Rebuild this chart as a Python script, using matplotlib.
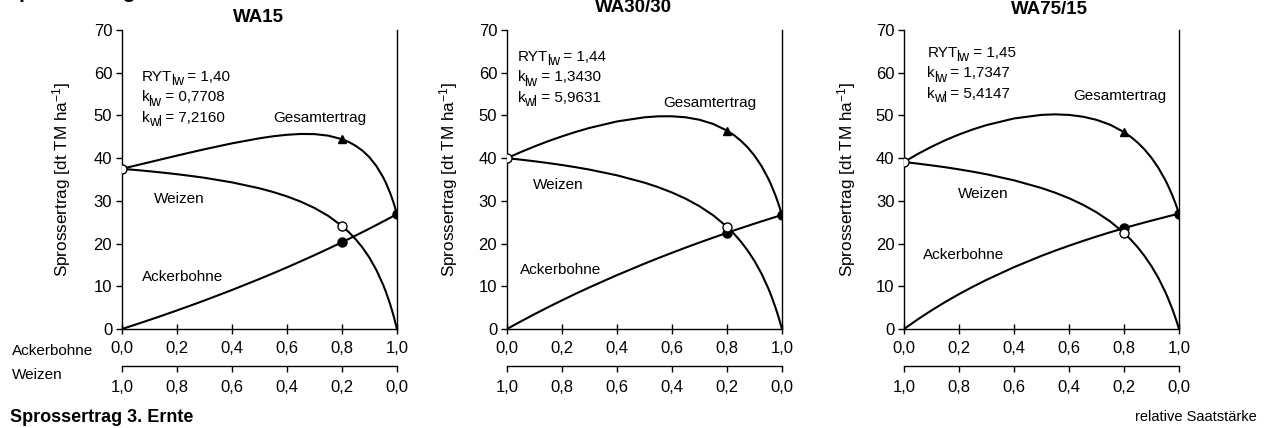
import matplotlib
matplotlib.use("Agg")
import matplotlib.pyplot as plt
from matplotlib.ticker import FuncFormatter
import numpy as np

plt.rcParams["font.family"] = ["Liberation Sans", "DejaVu Sans"]
plt.rcParams["mathtext.fontset"] = "custom"
plt.rcParams["mathtext.rm"] = "Liberation Sans"
plt.rcParams["mathtext.it"] = "Liberation Sans"

# relative seeding share of faba bean (Ackerbohne)
x_share = [0.0, 0.05, 0.1, 0.15, 0.2, 0.25, 0.3, 0.4, 0.5, 0.55, 0.6, 0.65, 0.7,
           0.75, 0.8, 0.825, 0.85, 0.875, 0.9, 0.925, 0.95, 0.96, 0.975, 0.985,
           0.99, 1.0]

panels = ["WA15", "WA30/30", "WA75/15"]

# shoot yield of wheat (Weizen), dt TM/ha
weizen_wa15 = [37.5, 37.23, 36.93, 36.60, 36.24, 35.84, 35.40, 34.33, 32.94, 32.07,
               31.05, 29.82, 28.34, 26.49, 24.13, 22.68, 21.00, 19.04, 16.69, 13.84,
               10.32, 8.67, 5.86, 3.71, 2.55, 0.0]
weizen_wa30 = [40.0, 39.65, 39.27, 38.85, 38.39, 37.88, 37.32, 35.98, 34.26, 33.20,
               31.96, 30.50, 28.75, 26.61, 23.94, 22.34, 20.51, 18.40, 15.94, 13.04,
               9.56, 7.96, 5.30, 3.33, 2.27, 0.0]
weizen_wa75 = [39.1, 38.72, 38.31, 37.87, 37.37, 36.83, 36.23, 34.81, 33.00, 31.90,
               30.62, 29.11, 27.32, 25.16, 22.49, 20.90, 19.11, 17.05, 14.69, 11.93,
               8.67, 7.20, 4.77, 2.98, 2.03, 0.0]

# shoot yield of faba bean (Ackerbohne), dt TM/ha
ackerbohne_wa15 = [0.0, 1.05, 2.12, 3.22, 4.35, 5.50, 6.68, 9.13, 11.71, 13.05,
                   14.42, 15.84, 17.29, 18.78, 20.31, 21.09, 21.89, 22.69, 23.51,
                   24.34, 25.18, 25.52, 26.03, 26.38, 26.55, 26.9]
ackerbohne_wa30 = [0.0, 1.76, 3.47, 5.12, 6.71, 8.26, 9.75, 12.61, 15.30, 16.59,
                   17.84, 19.06, 20.24, 21.39, 22.51, 23.06, 23.60, 24.13, 24.66,
                   25.18, 25.69, 25.90, 26.20, 26.40, 26.50, 26.7]
ackerbohne_wa75 = [0.0, 2.26, 4.36, 6.33, 8.17, 9.89, 11.51, 14.48, 17.13, 18.35,
                   19.50, 20.60, 21.65, 22.65, 23.60, 24.06, 24.51, 24.95, 25.37,
                   25.79, 26.20, 26.37, 26.61, 26.77, 26.84, 27.0]

ryt_labels = ["1,40", "1,44", "1,45"]
k_lw_labels = ["0,7708", "1,3430", "1,7347"]
k_wl_labels = ["7,2160", "5,9631", "5,4147"]

weizen = [weizen_wa15, weizen_wa30, weizen_wa75]
ackerbohne = [ackerbohne_wa15, ackerbohne_wa30, ackerbohne_wa75]

# layout (figure fractions) and label placement per panel (data coords)
ax_left = [0.0961, 0.3995, 0.7124]
ax_w = 0.2167
ax_b = 0.2313
ax_h = 0.6986
title_pos = [(0.2033, 1 - 18 / 428), (0.4990, 1 - 7 / 428), (0.8270, 1 - 10 / 428)]
stat_pos = [(0.073, 59.4), (0.039, 64.1), (0.085, 65.0)]
gesamt_pos = [(0.718, 49.4), (0.738, 52.9), (0.785, 54.5)]
weizen_pos = [(0.207, 30.4), (0.185, 33.6), (0.287, 31.7)]
acker_pos = [(0.222, 12.2), (0.196, 13.8), (0.218, 17.4)]
ylabel_x = [62 / 1269, 449 / 1269, 847 / 1269]

FS = 11
TICK_FS = 12
comma_fmt = FuncFormatter(lambda v, p: f"{v:.1f}".replace(".", ","))


def sub_label(ax, x, y, base, sub, rest, size=FS):
    """Write base + lowered subscript + rest, e.g. RYT_lw = 1,40."""
    t0 = ax.text(x, y, base, fontsize=size, va="bottom", ha="left")
    t1 = ax.annotate(sub, xy=(1, 0), xycoords=t0, xytext=(-0.8, -3.2),
                     textcoords="offset points", fontsize=size * 0.9,
                     va="bottom", ha="left")
    ax.annotate(rest, xy=(1, 0), xycoords=t1, xytext=(-0.5, 3.2),
                textcoords="offset points", fontsize=size,
                va="bottom", ha="left")


fig = plt.figure(figsize=(12.69, 4.28), dpi=100)

x = np.array(x_share)
for i in range(3):
    ax = fig.add_axes([ax_left[i], ax_b, ax_w, ax_h])
    w = np.array(weizen[i])
    a = np.array(ackerbohne[i])
    total = w + a

    for series in (w, a, total):
        ax.plot(x, series, color="black", lw=1.5, zorder=2,
                solid_joinstyle="round")

    i0 = x_share.index(0.0)
    i8 = x_share.index(0.8)
    i1 = x_share.index(1.0)
    ax.plot([x[i0], x[i8]], [w[i0], w[i8]], ls="none", marker="o", ms=6.5,
            mfc="white", mec="black", mew=1, zorder=4)
    ax.plot([x[i8], x[i1]], [a[i8], a[i1]], ls="none", marker="o", ms=6.5,
            mfc="black", mec="black", zorder=3)
    ax.plot([x[i8]], [total[i8]], ls="none", marker="^", ms=6,
            mfc="black", mec="black", zorder=3)

    ax.set_xlim(0, 1)
    ax.set_ylim(0, 70)
    ax.spines["top"].set_visible(False)
    for s in ("left", "bottom", "right"):
        ax.spines[s].set_linewidth(1.0)
        ax.spines[s].set_color("black")
    ax.set_yticks(np.arange(0, 71, 10))
    ax.set_xticks(np.arange(0, 1.01, 0.2))
    ax.xaxis.set_major_formatter(comma_fmt)
    ax.tick_params(axis="y", direction="out", length=4, width=1,
                   labelsize=TICK_FS, pad=3)
    ax.tick_params(axis="x", direction="inout", length=7, width=1,
                   labelsize=TICK_FS, pad=5)
    ax.tick_params(right=False)

    sx, sy = stat_pos[i]
    sub_label(ax, sx, sy - 2.0, "RYT", "lw", " = " + ryt_labels[i])
    sub_label(ax, sx, sy - 6.8, "k", "lw", " = " + k_lw_labels[i])
    sub_label(ax, sx, sy - 11.6, "k", "wl", " = " + k_wl_labels[i])
    ax.text(*gesamt_pos[i], "Gesamtertrag", fontsize=FS, ha="center", va="center")
    ax.text(*weizen_pos[i], "Weizen", fontsize=FS, ha="center", va="center")
    ax.text(*acker_pos[i], "Ackerbohne", fontsize=FS, ha="center", va="center")

    # second scale: relative seeding share of wheat
    sec = ax.secondary_xaxis(-0.1237, functions=(lambda v: 1 - v, lambda v: 1 - v))
    sec.set_xticks([1.0, 0.8, 0.6, 0.4, 0.2, 0.0])
    sec.xaxis.set_major_formatter(comma_fmt)
    sec.spines["bottom"].set_linewidth(1.0)
    sec.tick_params(direction="out", length=4, width=1, labelsize=TICK_FS, pad=6)

    fig.text(title_pos[i][0], title_pos[i][1], panels[i], fontsize=13.5,
             fontweight="bold", ha="center", va="center")
    fig.text(ylabel_x[i], ax_b + ax_h / 2, "Sprossertrag [dt TM ha$^{\\mathregular{-1}}$]",
             fontsize=12.3, rotation=90, ha="center", va="center")

fig.text(12 / 1269, 1 - 351 / 428, "Ackerbohne", fontsize=FS, ha="left", va="center")
fig.text(12 / 1269, 1 - 375 / 428, "Weizen", fontsize=FS, ha="left", va="center")
fig.text(10 / 1269, 1 - 417 / 428, "Sprossertrag 3. Ernte", fontsize=13,
         fontweight="bold", ha="left", va="center")
fig.text(1257 / 1269, 1 - 417 / 428, "relative Saatstärke", fontsize=10.5,
         ha="right", va="center")
fig.text(5 / 1269, 1.004, "Sprossertrag", fontsize=15, fontweight="bold",
         ha="left", va="baseline")

fig.savefig("out.png", dpi=100)
